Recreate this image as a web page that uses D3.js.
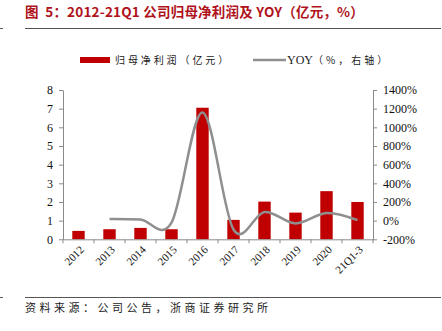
<!DOCTYPE html>
<html>
<head>
<meta charset="utf-8">
<script src="https://cdn.jsdelivr.net/npm/d3@7"></script>
<style>
  html, body { margin: 0; padding: 0; background: #fff; }
  svg { display: block; }
  .title { white-space: pre; }
</style>
</head>
<body>
<svg id="chart" width="442" height="331"></svg>
<script>
// Net profit attributable to parent (亿元) and YoY growth (%)
const categories = ["2012", "2013", "2014", "2015", "2016", "2017", "2018", "2019", "2020", "21Q1-3"];
const profit = [0.45, 0.54, 0.61, 0.54, 7.05, 1.04, 2.02, 1.43, 2.58, 2.0];
const yoy = [null, 18, 12, -22, 1160, -95, 93, -30, 82, 5];
const leftTicks = [0, 1, 2, 3, 4, 5, 6, 7, 8];
const rightTicks = [-200, 0, 200, 400, 600, 800, 1000, 1200, 1400];

const svg = d3.select("#chart");
const serif = "'Liberation Serif', 'Times New Roman', serif";
const cjk = "'Noto Sans CJK SC', sans-serif";
const axisColor = "#8a8a8a";

// Title and rules
svg.append("text")
  .attr("class", "title")
  .attr("x", 25).attr("y", 17)
  .attr("font-family", cjk).attr("font-weight", "bold").attr("font-size", 13.5)
  .attr("letter-spacing", 0.2)
  .attr("fill", "#b0121b")
  .text("图  5：2012-21Q1 公司归母净利润及 YOY（亿元，%）");
svg.append("line").attr("x1", 25).attr("x2", 441).attr("y1", 28.5).attr("y2", 28.5)
  .attr("stroke", "#555").attr("stroke-width", 1);
svg.append("line").attr("x1", 0).attr("x2", 3).attr("y1", 28.5).attr("y2", 28.5)
  .attr("stroke", "#555").attr("stroke-width", 1);
svg.append("line").attr("x1", 25).attr("x2", 441).attr("y1", 297.5).attr("y2", 297.5)
  .attr("stroke", "#555").attr("stroke-width", 1);
svg.append("line").attr("x1", 0).attr("x2", 3).attr("y1", 297.5).attr("y2", 297.5)
  .attr("stroke", "#555").attr("stroke-width", 1);
svg.append("text")
  .attr("x", 25).attr("y", 312)
  .attr("font-family", cjk).attr("font-size", 11).attr("letter-spacing", 3.5)
  .attr("fill", "#222")
  .text("资料来源：公司公告，浙商证券研究所");

// Plot area
const plotLeft = 63, plotRight = 373, plotTop = 90, plotBottom = 239.3;

const x = d3.scaleBand().domain(categories).range([plotLeft, plotRight]).paddingInner(0.6).paddingOuter(0.3);
const xBand = d3.scaleBand().domain(categories).range([plotLeft, plotRight]);
const yL = d3.scaleLinear().domain([0, 8]).range([plotBottom, plotTop]);
const yR = d3.scaleLinear().domain([-200, 1400]).range([plotBottom, plotTop]);

// Bars
svg.append("g").selectAll("rect")
  .data(categories)
  .join("rect")
  .attr("x", (d) => x(d))
  .attr("width", x.bandwidth())
  .attr("y", (d, i) => yL(profit[i]))
  .attr("height", (d, i) => yL(0) - yL(profit[i]))
  .attr("fill", "#c00000");

// YoY line
const line = d3.line()
  .defined((d) => d.v !== null)
  .x((d) => xBand(d.c) + xBand.bandwidth() / 2)
  .y((d) => yR(d.v))
  .curve(d3.curveCardinal.tension(0));
svg.append("path")
  .datum(categories.map((c, i) => ({ c, v: yoy[i] })).filter((d) => d.v !== null))
  .attr("d", line)
  .attr("fill", "none")
  .attr("stroke", "#8f8f8f")
  .attr("stroke-width", 2.5);

// Axes
function styleAxis(g) {
  g.selectAll("path, line").attr("stroke", axisColor);
  g.selectAll("text").attr("font-family", serif).attr("fill", "#111");
}

const gL = svg.append("g").attr("transform", `translate(${plotLeft},0)`)
  .call(d3.axisLeft(yL).tickValues(leftTicks).tickSizeInner(4).tickSizeOuter(0).tickPadding(6));
styleAxis(gL);
gL.selectAll("text").attr("font-size", 12);

const gR = svg.append("g").attr("transform", `translate(${plotRight},0)`)
  .call(d3.axisRight(yR).tickValues(rightTicks).tickFormat((d) => d + "%").tickSizeInner(4).tickSizeOuter(0).tickPadding(6));
styleAxis(gR);
gR.selectAll("text").attr("font-size", 12);

const gB = svg.append("g").attr("transform", `translate(0,${plotBottom})`)
  .call(d3.axisBottom(xBand).tickSize(0).tickSizeOuter(0));
styleAxis(gB);
gB.selectAll(".tick line").remove();
// tick marks at category boundaries
gB.selectAll("line.bound")
  .data(categories.concat(["_end"]))
  .join("line")
  .attr("class", "bound")
  .attr("x1", (d, i) => plotLeft + i * xBand.step())
  .attr("x2", (d, i) => plotLeft + i * xBand.step())
  .attr("y1", 0).attr("y2", 4)
  .attr("stroke", axisColor);
gB.selectAll(".tick text")
  .attr("font-size", 11)
  .attr("text-anchor", "end")
  .attr("dy", null)
  .attr("transform", "translate(4,9) rotate(-45)");

// Legend
svg.append("rect").attr("x", 80).attr("y", 57).attr("width", 30).attr("height", 6).attr("fill", "#c00000");
svg.append("text").attr("x", 115).attr("y", 64)
  .attr("font-family", cjk).attr("font-size", 10).attr("letter-spacing", 2.9).attr("fill", "#222")
  .text("归母净利润（亿元）");
svg.append("line").attr("x1", 253).attr("x2", 286).attr("y1", 60).attr("y2", 60)
  .attr("stroke", "#8f8f8f").attr("stroke-width", 2.5);
const lg = svg.append("text").attr("x", 287).attr("y", 64).attr("fill", "#222");
lg.append("tspan").attr("font-family", serif).attr("font-size", 12).text("YOY");
lg.append("tspan").attr("font-family", cjk).attr("font-size", 10).attr("letter-spacing", 3).text("（%，右轴）");
</script>
</body>
</html>
